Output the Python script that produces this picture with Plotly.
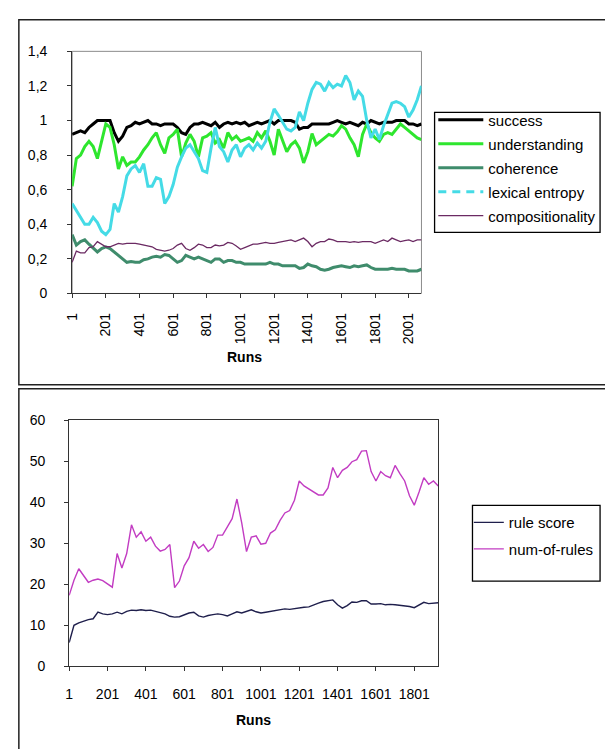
import plotly.graph_objects as go

# ---------------- data: upper panel (runs 1..2076, every 25th run) ----------------
runs_top = list(range(1, 2077, 25))

success = [
    0.92, 0.93, 0.94, 0.93, 0.96, 0.98, 1.00, 1.00,
    1.00, 1.00, 0.93, 0.88, 0.91, 0.96, 0.97, 0.99,
    0.98, 0.99, 1.00, 0.98, 0.98, 0.97, 0.98, 0.98,
    0.98, 0.96, 0.93, 0.92, 0.96, 0.98, 0.98,
    0.99, 0.98, 0.97, 0.99, 0.96, 0.98, 0.99, 0.98,
    0.99, 0.98, 0.99, 0.97, 0.98, 0.99, 0.98, 0.99,
    1.00, 0.98, 1.00, 1.00, 1.00, 1.00, 0.99, 0.95,
    0.96, 0.96, 0.98, 0.98, 0.98, 0.98, 0.98, 0.99,
    1.00, 0.99, 0.98, 0.99, 0.98, 0.97, 0.99, 0.98,
    1.00, 0.99, 0.98, 0.99, 0.99, 0.99, 1.00, 1.00,
    1.00, 0.98, 0.98, 0.97, 0.98,
]

understanding = [
    0.62, 0.78, 0.80, 0.85, 0.88, 0.85, 0.78, 0.88,
    0.98, 0.96, 0.86, 0.72, 0.79, 0.74, 0.76, 0.76,
    0.79, 0.83, 0.86, 0.90, 0.93, 0.86, 0.81, 0.90,
    0.92, 0.95, 0.79, 0.87, 0.92, 0.88, 0.79,
    0.90, 0.91, 0.93, 0.87, 0.89, 0.84, 0.93, 0.89,
    0.91, 0.88, 0.89, 0.90, 0.88, 0.93, 0.90, 0.94,
    0.88, 0.80, 0.95, 0.89, 0.82, 0.86, 0.88, 0.84,
    0.755, 0.82, 0.925, 0.86, 0.88, 0.90, 0.92, 0.91,
    0.935, 0.97, 0.95, 0.90, 0.86, 0.79, 0.92, 0.98,
    0.93, 0.90, 0.88, 0.92, 0.93, 0.92, 0.95, 0.98,
    0.96, 0.94, 0.92, 0.90, 0.89,
]

coherence = [
    0.34, 0.28, 0.30, 0.31, 0.285, 0.265, 0.24, 0.26,
    0.27, 0.26, 0.24, 0.22, 0.20, 0.18, 0.185, 0.18,
    0.18, 0.195, 0.20, 0.21, 0.215, 0.21, 0.225, 0.22,
    0.20, 0.18, 0.19, 0.22, 0.21, 0.20, 0.21,
    0.20, 0.19, 0.18, 0.20, 0.20, 0.18, 0.19, 0.19,
    0.18, 0.18, 0.17, 0.17, 0.17, 0.17, 0.17, 0.17,
    0.18, 0.17, 0.17, 0.16, 0.16, 0.16, 0.16, 0.145,
    0.15, 0.17, 0.16, 0.155, 0.14, 0.135, 0.14, 0.15,
    0.155, 0.16, 0.155, 0.15, 0.16, 0.155, 0.16, 0.165,
    0.15, 0.14, 0.14, 0.14, 0.14, 0.145, 0.14, 0.14,
    0.14, 0.13, 0.13, 0.13, 0.14,
]

lexical_entropy = [
    0.52, 0.48, 0.44, 0.40, 0.40, 0.44, 0.41, 0.36,
    0.34, 0.37, 0.52, 0.47, 0.56, 0.68, 0.72, 0.74,
    0.70, 0.75, 0.62, 0.62, 0.67, 0.66, 0.52, 0.56,
    0.63, 0.73, 0.79, 0.84, 0.86, 0.82, 0.78,
    0.71, 0.70, 0.84, 0.96, 0.85, 0.82, 0.76, 0.83,
    0.86, 0.79, 0.84, 0.86, 0.83, 0.87, 0.84, 0.88,
    0.99, 1.067, 1.03, 0.99, 0.95, 0.94, 0.96, 1.05,
    1.00, 1.10, 1.18, 1.22, 1.21, 1.17, 1.22, 1.19,
    1.21, 1.20, 1.26, 1.22, 1.12, 1.17, 1.14, 1.00,
    0.90, 0.95, 0.89, 0.97, 1.03, 1.10, 1.11, 1.10,
    1.08, 1.02, 1.06, 1.12, 1.20,
]

compositionality = [
    0.18, 0.245, 0.235, 0.235, 0.265, 0.27, 0.30, 0.285,
    0.27, 0.27, 0.28, 0.29, 0.285, 0.29, 0.29, 0.29,
    0.285, 0.28, 0.275, 0.27, 0.255, 0.25, 0.245, 0.25,
    0.26, 0.28, 0.29, 0.26, 0.25, 0.265, 0.285,
    0.28, 0.265, 0.265, 0.28, 0.275, 0.28, 0.295, 0.29,
    0.275, 0.255, 0.265, 0.275, 0.285, 0.285, 0.29, 0.295,
    0.29, 0.29, 0.295, 0.30, 0.305, 0.31, 0.30, 0.31,
    0.32, 0.30, 0.27, 0.29, 0.30, 0.30, 0.315, 0.31,
    0.30, 0.30, 0.30, 0.295, 0.30, 0.295, 0.30, 0.30,
    0.30, 0.29, 0.30, 0.31, 0.30, 0.32, 0.31, 0.30,
    0.305, 0.31, 0.30, 0.31, 0.31,
]

top_tick_runs = [1, 201, 401, 601, 801, 1001, 1201, 1401, 1601, 1801, 2001]
top_y_ticks = [0, 0.2, 0.4, 0.6, 0.8, 1.0, 1.2, 1.4]
top_y_labels = ["0", "0,2", "0,4", "0,6", "0,8", "1", "1,2", "1,4"]

# ---------------- data: lower panel (runs 1..1926, every 25th run) ----------------
runs_bottom = list(range(1, 1927, 25))

rule_score = [
    5.8, 10.0, 10.6, 11.0, 11.4, 11.6, 13.2, 12.8,
    12.6, 12.8, 13.2, 12.8, 13.4, 13.7, 13.6, 13.8,
    13.6, 13.7, 13.4, 13.1, 12.8, 12.2, 12.0, 12.1,
    12.6, 13.0, 13.2, 12.3, 12.0, 12.4, 12.6, 12.8,
    12.6, 12.3, 12.8, 13.3, 13.0, 13.4, 13.8, 13.3,
    13.0, 13.2, 13.4, 13.7, 13.9, 14.0, 13.9, 14.1,
    14.3, 14.4, 14.5, 15.0, 15.4, 15.8, 16.0, 16.2,
    15.0, 14.2, 14.8, 15.7, 15.6, 16.0, 16.0, 15.2,
    15.2, 15.3, 15.0, 15.1, 15.0, 14.9, 14.8, 14.6,
    14.3, 15.0, 15.6, 15.3, 15.4, 15.5,
]

num_of_rules = [
    17.3, 21.0, 23.8, 22.1, 20.5, 21.0, 21.3, 20.9,
    20.0, 19.3, 27.5, 24.0, 27.5, 34.5, 31.5, 32.8,
    30.5, 31.5, 29.3, 28.1, 28.5, 29.7, 19.2, 20.8,
    24.5, 26.5, 30.5, 28.8, 29.7, 28.0, 29.0, 32.0,
    32.0, 34.0, 36.0, 40.8, 35.0, 28.0, 31.5, 31.8,
    29.8, 30.0, 32.5, 33.3, 35.6, 37.4, 38.0, 40.5,
    45.2, 44.0, 43.2, 42.5, 41.8, 41.8, 43.5, 48.5,
    46.0, 47.8, 48.5, 49.9, 50.4, 52.5, 52.6, 47.5,
    45.2, 47.5, 46.5, 46.0, 49.0, 47.0, 45.2, 41.6,
    39.3, 42.5, 46.0, 44.4, 45.2, 44.0,
]

bottom_tick_runs = [1, 201, 401, 601, 801, 1001, 1201, 1401, 1601, 1801]
bottom_y_ticks = [0, 10, 20, 30, 40, 50, 60]

# ---------------- styling ----------------
W, H = 605, 749
FONT = "Liberation Sans, Arial, sans-serif"


def px_x(p):
    return p / W


def px_y(p):
    return 1 - p / H


fig = go.Figure()

top_series = [
    ("success", success, "#000000", 3),
    ("understanding", understanding, "#2ee62e", 3),
    ("coherence", coherence, "#3f8c6c", 3),
    ("lexical entropy", lexical_entropy, "#45dbe6", 3),
    ("compositionality", compositionality, "#6b2a63", 1.3),
]

for name, vals, color, width in top_series:
    dashed = name == "lexical entropy"
    fig.add_trace(go.Scatter(
        x=runs_top, y=vals, name=name, mode="lines",
        line=dict(color=color, width=width),
        xaxis="x", yaxis="y", legend="legend", legendgroup=name,
        showlegend=not dashed,
    ))
    if dashed:
        # legend key drawn with a dashed stroke
        fig.add_trace(go.Scatter(
            x=[None], y=[None], name=name, mode="lines",
            line=dict(color=color, width=width, dash="8px,6px"),
            xaxis="x", yaxis="y", legend="legend", legendgroup=name,
        ))

bottom_series = [
    ("rule score", rule_score, "#1f1f4c", 1.4),
    ("num-of-rules", num_of_rules, "#c23cc2", 1.4),
]
for name, vals, color, width in bottom_series:
    fig.add_trace(go.Scatter(
        x=runs_bottom, y=vals, name=name, mode="lines",
        line=dict(color=color, width=width),
        xaxis="x2", yaxis="y2", legend="legend2", legendgroup=name,
    ))

tick_font = dict(family=FONT, size=14, color="#000000")
axis_common = dict(showgrid=False, zeroline=False, ticks="outside", ticklen=4,
                   tickcolor="#333333", linecolor="#333333", linewidth=1,
                   tickfont=tick_font, fixedrange=True)

fig.update_layout(
    width=W, height=H,
    margin=dict(l=0, r=0, t=0, b=0),
    paper_bgcolor="#ffffff", plot_bgcolor="#ffffff",
    font=dict(family=FONT, size=14, color="#000000"),
    xaxis=dict(domain=[px_x(65), px_x(419)], anchor="y", range=[1, 2076],
               tickmode="array", tickvals=top_tick_runs,
               ticktext=[str(v) for v in top_tick_runs], tickangle=-90,
               ticklabelstandoff=9, **axis_common),
    yaxis=dict(domain=[px_y(291.7), px_y(44.3)], anchor="x", range=[0, 1.4],
               tickmode="array", tickvals=top_y_ticks, ticktext=top_y_labels,
               ticklabelstandoff=17, **axis_common),
    xaxis2=dict(domain=[px_x(62), px_x(436)], anchor="y2", range=[1, 1926],
                tickmode="array", tickvals=bottom_tick_runs,
                ticktext=[str(v) for v in bottom_tick_runs], tickangle=0,
                ticklabelstandoff=11, mirror=True, **axis_common),
    yaxis2=dict(domain=[px_y(672.7), px_y(421.3)], anchor="x2", range=[0, 60],
                tickmode="array", tickvals=bottom_y_ticks,
                ticktext=[str(v) for v in bottom_y_ticks],
                ticklabelstandoff=16, mirror=True, **axis_common),
    legend=dict(x=px_x(431), y=px_y(97.5), xanchor="left", yanchor="top",
                bgcolor="rgba(0,0,0,0)", borderwidth=0,
                font=dict(family=FONT, size=15, color="#000000"),
                traceorder="grouped", tracegroupgap=1.5, itemwidth=45),
    legend2=dict(x=px_x(467), y=px_y(509), xanchor="left", yanchor="top",
                 bgcolor="rgba(0,0,0,0)", borderwidth=0,
                 font=dict(family=FONT, size=15, color="#000000"),
                 traceorder="grouped", tracegroupgap=4, itemwidth=30),
    showlegend=True,
)

shapes = [
    # outer frames of the two panels
    dict(type="rect", xref="paper", yref="paper",
         x0=px_x(11), x1=1.02, y0=px_y(385), y1=px_y(12),
         line=dict(color="#222222", width=1.5)),
    dict(type="rect", xref="paper", yref="paper",
         x0=px_x(11), x1=1.02, y0=-0.02, y1=px_y(389),
         line=dict(color="#222222", width=1.5)),
    # plot-area border of the upper panel
    dict(type="rect", xref="x domain", yref="y domain", x0=0, x1=1, y0=0, y1=1,
         line=dict(color="#8c8c8c", width=1), layer="below"),
    # legend boxes
    dict(type="rect", xref="paper", yref="paper",
         x0=px_x(432.3), x1=px_x(600), y0=px_y(229.3), y1=px_y(106.7),
         line=dict(color="#000000", width=1.3)),
    dict(type="rect", xref="paper", yref="paper",
         x0=px_x(470.7), x1=px_x(600), y0=px_y(585.7), y1=px_y(508.3),
         line=dict(color="#000000", width=1.3)),
]
fig.update_layout(shapes=shapes)

fig.add_annotation(text="<b>Runs</b>", xref="paper", yref="paper",
                   x=px_x(240), y=px_y(357), xanchor="center", yanchor="middle",
                   showarrow=False, font=dict(family=FONT, size=14, color="#000000"))
fig.add_annotation(text="<b>Runs</b>", xref="paper", yref="paper",
                   x=px_x(249), y=px_y(728), xanchor="center", yanchor="middle",
                   showarrow=False, font=dict(family=FONT, size=14, color="#000000"))

fig.write_html("out.html")
